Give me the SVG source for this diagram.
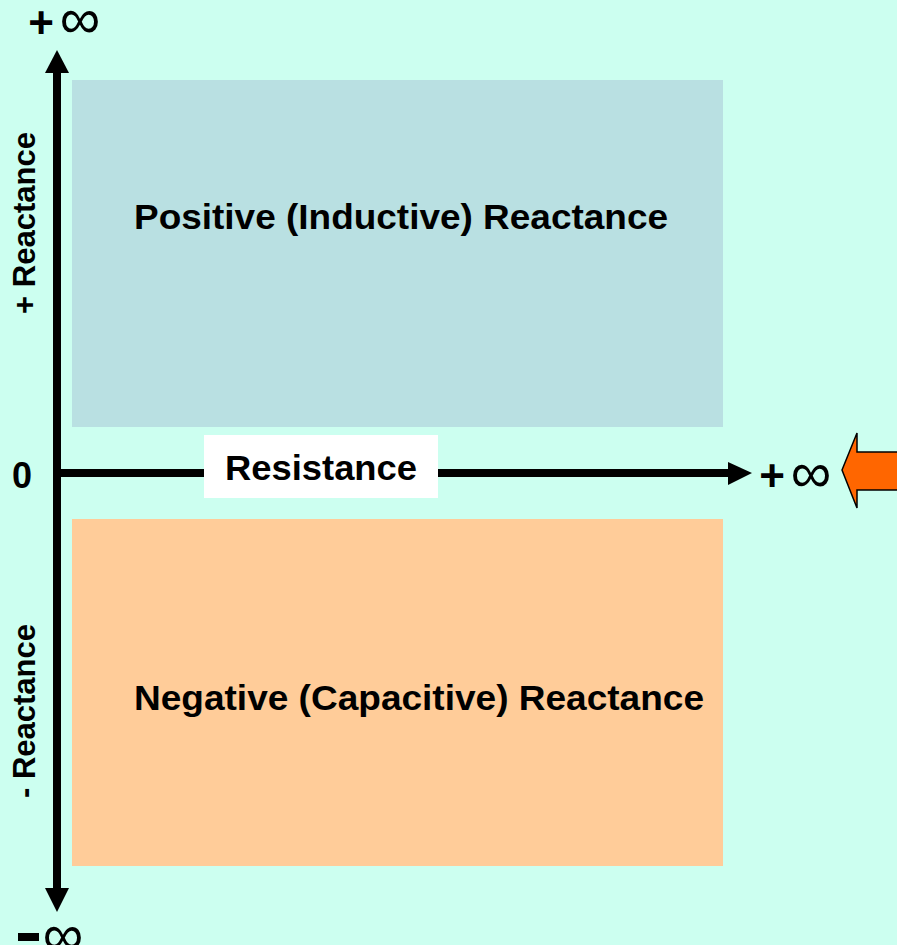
<svg xmlns="http://www.w3.org/2000/svg" width="897" height="945" viewBox="0 0 897 945">
<style>
text{font-family:"Liberation Sans",Arial,sans-serif;fill:#000}
.b{font-weight:bold}
.lbl{font-weight:bold;font-size:35px}
.plus{font-size:44px;font-weight:bold}
.inf{font-size:57px}
</style>
<rect x="0" y="0" width="897" height="945" fill="#CCFFF0"/>
<g id="positive-region">
<rect x="72" y="80" width="651" height="347" fill="#B9E0E2"/>
<text class="lbl" x="134" y="229" textLength="534" lengthAdjust="spacingAndGlyphs">Positive (Inductive) Reactance</text>
</g>
<g id="negative-region">
<rect x="72" y="519" width="651" height="347" fill="#FFCC99"/>
<text class="lbl" x="134" y="710" textLength="570" lengthAdjust="spacingAndGlyphs">Negative (Capacitive) Reactance</text>
</g>
<g id="connectors">
<line x1="57" y1="888" x2="57" y2="73" stroke="#000" stroke-width="8"/>
<path d="M45,73 L57,50 L69,73 Z" fill="#000"/>
<path d="M45,888 L57,912 L69,888 Z" fill="#000"/>
<line x1="53" y1="473" x2="729" y2="473" stroke="#000" stroke-width="8"/>
<path d="M728,462 L752,473 L728,485 Z" fill="#000"/>
</g>
<g id="resistance">
<rect x="204" y="435" width="234" height="63" fill="#FFFFFF"/>
<text class="b" x="321" y="480" font-size="35" text-anchor="middle" textLength="192" lengthAdjust="spacingAndGlyphs">Resistance</text>
</g>
<g id="axis-labels">
<text class="b" x="12" y="488" font-size="36">0</text>
<text class="b" font-size="31" text-anchor="middle" transform="translate(35,223) rotate(-90)">+ Reactance</text>
<text class="b" font-size="31" text-anchor="middle" transform="translate(35,711) rotate(-90)">- Reactance</text>
<text class="plus" x="41" y="38" text-anchor="middle">+</text>
<text class="inf" x="80" y="38" text-anchor="middle">∞</text>
<text class="plus" x="772" y="491" text-anchor="middle">+</text>
<text class="inf" x="811" y="492" text-anchor="middle">∞</text>
<rect x="18" y="933" width="21" height="8" fill="#000"/>
<text class="inf" x="63" y="954" text-anchor="middle">∞</text>
</g>
<g id="pointer-arrow">
<path d="M842,470 L857,433 L857,452 L900,452 L900,490 L857,490 L857,508 Z" fill="#FF6600" stroke="#000" stroke-width="1.5"/>
</g>
</svg>
